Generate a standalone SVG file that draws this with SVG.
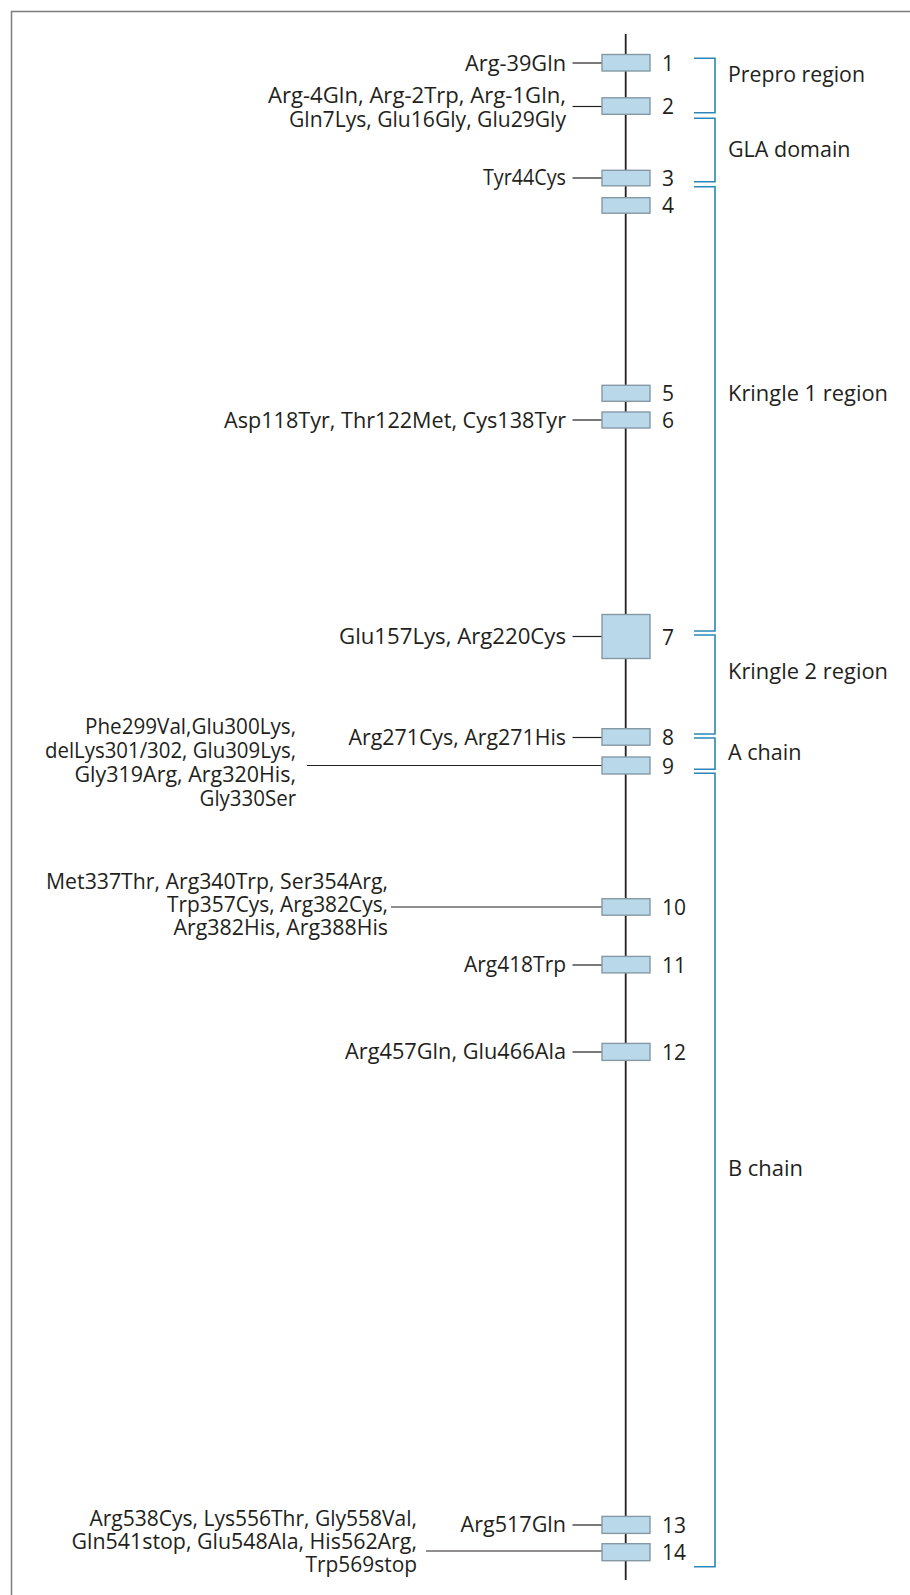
<svg xmlns="http://www.w3.org/2000/svg" width="910" height="1595" viewBox="0 0 910 1595">
  <style>
    text { font-family: "Open Sans", "Noto Sans", "DejaVu Sans", sans-serif; font-size: 21.4px; fill: #231f20; }
    .lbl { text-anchor: end; }
    .num { text-anchor: start; font-size: 21px; }
    .exon { fill: #b9d9ea; stroke: #8599a5; stroke-width: 1.4; }
    .axis { stroke: #231f20; stroke-width: 1.8; fill: none; }
    .lead { stroke: #231f20; stroke-width: 1.2; fill: none; }
    .brace { stroke: #2b87b8; stroke-width: 1.6; fill: none; }
    .frame { stroke: #7d7d7d; stroke-width: 1.5; fill: #ffffff; }
  </style>

  <rect class="frame" x="11.5" y="11.5" width="920" height="1600"/>

  <!-- gene backbone -->
  <line class="axis" x1="625.7" y1="34" x2="625.7" y2="1580"/>

  <!-- leader lines from mutation labels to exons -->
  <g id="connectors">
    <line class="lead" x1="572.5" y1="63" x2="602" y2="63"/>
    <line class="lead" x1="572.5" y1="106.5" x2="602" y2="106.5"/>
    <line class="lead" x1="572.5" y1="178" x2="602" y2="178"/>
    <line class="lead" x1="572.5" y1="420" x2="602" y2="420"/>
    <line class="lead" x1="572.5" y1="636.5" x2="602" y2="636.5"/>
    <line class="lead" x1="572.5" y1="737.5" x2="602" y2="737.5"/>
    <line class="lead" x1="307" y1="765.5" x2="602" y2="765.5"/>
    <line class="lead" x1="391" y1="907" x2="602" y2="907"/>
    <line class="lead" x1="572.5" y1="965" x2="602" y2="965"/>
    <line class="lead" x1="572.5" y1="1052" x2="602" y2="1052"/>
    <line class="lead" x1="572.5" y1="1525" x2="602" y2="1525"/>
    <line class="lead" x1="426" y1="1551" x2="602" y2="1551"/>
  </g>

  <!-- exons -->
  <g id="exon1">
    <rect class="exon" x="602" y="54.5" width="48" height="16.5"/>
    <text class="num" x="662" y="70.5">1</text>
    <text class="lbl" x="566" y="70.5" textLength="101" lengthAdjust="spacingAndGlyphs">Arg-39Gln</text>
  </g>
  <g id="exon2">
    <rect class="exon" x="602" y="97.8" width="48" height="16.5"/>
    <text class="num" x="662" y="113.5">2</text>
    <text class="lbl" x="566" y="103.3" textLength="298" lengthAdjust="spacingAndGlyphs">Arg-4Gln, Arg-2Trp, Arg-1Gln,</text>
    <text class="lbl" x="566" y="127" textLength="277" lengthAdjust="spacingAndGlyphs">Gln7Lys, Glu16Gly, Glu29Gly</text>
  </g>
  <g id="exon3">
    <rect class="exon" x="602" y="170.3" width="48" height="15.5"/>
    <text class="num" x="662" y="185.5">3</text>
    <text class="lbl" x="566" y="185" textLength="83" lengthAdjust="spacingAndGlyphs">Tyr44Cys</text>
  </g>
  <g id="exon4">
    <rect class="exon" x="602" y="197.7" width="48" height="15.5"/>
    <text class="num" x="662" y="213">4</text>
  </g>
  <g id="exon5">
    <rect class="exon" x="602" y="385.3" width="48" height="16"/>
    <text class="num" x="662" y="401">5</text>
  </g>
  <g id="exon6">
    <rect class="exon" x="602" y="412" width="48" height="16"/>
    <text class="num" x="662" y="428">6</text>
    <text class="lbl" x="566" y="427.5" textLength="342" lengthAdjust="spacingAndGlyphs">Asp118Tyr, Thr122Met, Cys138Tyr</text>
  </g>
  <g id="exon7">
    <rect class="exon" x="602" y="614.5" width="48" height="44"/>
    <text class="num" x="662" y="644.5">7</text>
    <text class="lbl" x="566" y="644" textLength="227" lengthAdjust="spacingAndGlyphs">Glu157Lys, Arg220Cys</text>
  </g>
  <g id="exon8">
    <rect class="exon" x="602" y="728.7" width="48" height="16.5"/>
    <text class="num" x="662" y="745">8</text>
    <text class="lbl" x="566" y="744.5" textLength="217.5" lengthAdjust="spacingAndGlyphs">Arg271Cys, Arg271His</text>
  </g>
  <g id="exon9">
    <rect class="exon" x="602" y="757" width="48" height="17"/>
    <text class="num" x="662" y="773.5">9</text>
    <text class="lbl" x="296" y="733.5" textLength="211" lengthAdjust="spacingAndGlyphs">Phe299Val,Glu300Lys,</text>
    <text class="lbl" x="296" y="757.5" textLength="251" lengthAdjust="spacingAndGlyphs">delLys301/302, Glu309Lys,</text>
    <text class="lbl" x="296" y="781.5" textLength="221.5" lengthAdjust="spacingAndGlyphs">Gly319Arg, Arg320His,</text>
    <text class="lbl" x="296" y="805.5" textLength="96.5" lengthAdjust="spacingAndGlyphs">Gly330Ser</text>
  </g>
  <g id="exon10">
    <rect class="exon" x="602" y="898.7" width="48" height="16.5"/>
    <text class="num" x="662" y="915">10</text>
    <text class="lbl" x="388" y="888.5" textLength="342" lengthAdjust="spacingAndGlyphs">Met337Thr, Arg340Trp, Ser354Arg,</text>
    <text class="lbl" x="388" y="911.5" textLength="221" lengthAdjust="spacingAndGlyphs">Trp357Cys, Arg382Cys,</text>
    <text class="lbl" x="388" y="934.5" textLength="214.5" lengthAdjust="spacingAndGlyphs">Arg382His, Arg388His</text>
  </g>
  <g id="exon11">
    <rect class="exon" x="602" y="956.4" width="48" height="16.5"/>
    <text class="num" x="662" y="972.5">11</text>
    <text class="lbl" x="566" y="972" textLength="102" lengthAdjust="spacingAndGlyphs">Arg418Trp</text>
  </g>
  <g id="exon12">
    <rect class="exon" x="602" y="1043.4" width="48" height="17"/>
    <text class="num" x="662" y="1059.5">12</text>
    <text class="lbl" x="566" y="1059" textLength="221" lengthAdjust="spacingAndGlyphs">Arg457Gln, Glu466Ala</text>
  </g>
  <g id="exon13">
    <rect class="exon" x="602" y="1516.4" width="48" height="17"/>
    <text class="num" x="662" y="1533">13</text>
    <text class="lbl" x="566" y="1532" textLength="105.5" lengthAdjust="spacingAndGlyphs">Arg517Gln</text>
  </g>
  <g id="exon14">
    <rect class="exon" x="602" y="1543.7" width="48" height="17"/>
    <text class="num" x="662" y="1560">14</text>
    <text class="lbl" x="417" y="1526" textLength="327.5" lengthAdjust="spacingAndGlyphs">Arg538Cys, Lys556Thr, Gly558Val,</text>
    <text class="lbl" x="417" y="1549" textLength="345.5" lengthAdjust="spacingAndGlyphs">Gln541stop, Glu548Ala, His562Arg,</text>
    <text class="lbl" x="417" y="1572" textLength="111.5" lengthAdjust="spacingAndGlyphs">Trp569stop</text>
  </g>

  <!-- protein regions -->
  <g id="region-prepro">
    <path class="brace" d="M694,58.3 H715 V112.7 H694"/>
    <text x="728" y="81.7" textLength="137" lengthAdjust="spacingAndGlyphs">Prepro region</text>
  </g>
  <g id="region-gla">
    <path class="brace" d="M694,118.3 H715 V181.7 H694"/>
    <text x="728" y="157.3" textLength="122.5" lengthAdjust="spacingAndGlyphs">GLA domain</text>
  </g>
  <g id="region-kringle1">
    <path class="brace" d="M694,186.7 H715 V631 H694"/>
    <text x="728" y="400.5" textLength="160" lengthAdjust="spacingAndGlyphs">Kringle 1 region</text>
  </g>
  <g id="region-kringle2">
    <path class="brace" d="M694,635 H715 V734 H694"/>
    <text x="728" y="679" textLength="160" lengthAdjust="spacingAndGlyphs">Kringle 2 region</text>
  </g>
  <g id="region-achain">
    <path class="brace" d="M694,738 H715 V769.3 H694"/>
    <text x="728" y="760" textLength="73.5" lengthAdjust="spacingAndGlyphs">A chain</text>
  </g>
  <g id="region-bchain">
    <path class="brace" d="M694,773.3 H715 V1566.7 H694"/>
    <text x="728" y="1176" textLength="75" lengthAdjust="spacingAndGlyphs">B chain</text>
  </g>
</svg>
